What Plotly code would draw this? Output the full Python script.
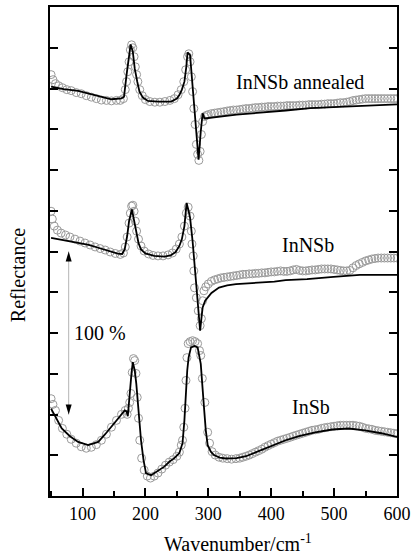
import plotly.graph_objects as go

# ---------------- data (wavenumber cm^-1, reflectance in %, offset spectra) ----------------
annealed_fit = [(50,251.1),(70,249.6),(93,248.5),(110,246.8),(127,245.0),(146,243.4),(162,244.0),(166,245.0),
    (170,258.3),(174,271.3),(176.5,277.0),(180,272.5),(183,262.3),(187,254.2),(190.6,248.1),(196,244.4),
    (204,242.4),(220,242.0),(241,242.0),(250,243.8),(254,246.0),(258,249.3),(262,254.2),(265,263.3),
    (267,272.1),(271,270.5),(275,251.1),(279,229.7),(282,214.5),(284.5,206.3),(288,223.6),(291,234.8),
    (294,231.6),(300,231.9),(317,232.8),(345,234.0),(370,234.8),(395,235.5),(423,236.5),(462,237.9),
    (515,238.9),(560,239.8),(600,240.3)]

annealed_meas = [(50,258.5),(53,255.4),(57,253.0),(62,251.7),(68,250.5),(75,249.3),(82,248.7),(90,247.5),
    (98,246.8),(106,245.6),(114,244.7),(122,243.8),(130,242.9),(138,242.7),(146,242.4),(154,242.7),
    (160,242.7),(165,243.8),(168,249.3),(170,254.2),(172,260.3),(174,266.4),(176,273.7),(178,276.8),
    (180,275.0),(182,269.5),(184,263.3),(186,258.5),(188,254.2),(191,249.3),(195,245.6),(200,243.2),
    (207,242.0),(215,241.6),(223,241.6),(231,242.0),(239,242.7),(246,243.8),(252,246.2),(257,249.3),
    (261,254.2),(264,261.5),(267,269.5),(269,271.3),(271,266.4),(273,257.2),(275,248.1),(277,237.7),
    (279,227.9),(281,215.7),(283,209.6),(285,205.9),(287,211.4),(289,221.8),(291,229.7),(294,232.8),
    (297,233.5),(300,234.0),(305,234.6),(310,234.9),(315,235.2),(320,235.5),(325,235.8),(330,236.2),
    (335,236.5),(340,236.8),(345,236.8),(350,237.1),(355,237.4),(360,237.7),(365,237.7),(370,238.0),
    (375,238.3),(380,238.3),(385,238.6),(390,238.6),(395,238.9),(400,238.9),(405,238.9),(410,239.2),
    (415,239.2),(420,239.2),(425,239.5),(430,239.5),(435,239.5),(440,239.5),(445,239.8),(450,239.8),
    (455,239.8),(460,240.1),(465,240.1),(470,240.1),(475,240.1),(480,240.4),(485,240.4),(490,240.7),
    (495,240.7),(500,240.7),(505,241.0),(510,241.3),(515,241.3),(520,241.6),(525,242.0),(530,242.6),
    (535,242.9),(540,243.2),(545,243.5),(550,243.8),(555,243.8),(560,243.8),(565,243.8),(570,243.8),
    (575,243.8),(580,243.8),(585,243.8),(590,243.8),(595,243.8),(600,243.8)]

innsb_fit = [(50,158.4),(70,157.0),(93,155.4),(110,154.0),(125,152.3),(140,150.6),(156,148.7),(163,148.5),
    (167,151.3),(171,159.5),(174,168.6),(178.5,175.8),(182,168.6),(185.5,160.5),(189,155.2),(193,151.3),
    (200,148.8),(214,147.3),(230,146.9),(240,147.6),(248,149.7),(254,153.4),(258,157.6),(262,165.6),
    (265.5,179.8),(268,176.0),(271,170.7),(275,156.4),(280,132.0),(284,112.4),(287,101.4),(289,108.8),
    (291,115.7),(295,119.8),(299,121.8),(305,124.6),(317,127.9),(330,129.2),(344,130.0),(365,130.4),
    (386,130.9),(405,131.5),(423,132.4),(457,133.0),(499,134.4),(541,135.6),(570,135.6),(600,135.6)]

innsb_meas = [(50,174.7),(52,169.9),(55,165.6),(60,163.1),(66,161.3),(73,160.1),(80,158.9),(88,157.6),
    (96,156.4),(104,155.2),(112,154.0),(120,152.8),(128,151.8),(136,150.9),(144,149.7),(152,148.8),
    (160,148.2),(165,149.1),(168,152.8),(171,158.9),(174,167.4),(176,173.5),(178,177.8),(180,178.4),
    (182,174.7),(184,168.6),(186,162.5),(189,157.6),(193,153.4),(198,150.3),(205,148.5),(212,147.6),
    (220,147.3),(228,147.3),(236,147.9),(243,149.1),(249,151.5),(254,154.6),(258,158.9),(262,165.6),
    (265,173.5),(268,177.2),(271,171.7),(273,162.5),(274,154.6),(276,147.3),(277,138.1),(278,127.7),
    (281,121.6),(284,113.6),(287,104.5),(289,108.8),(291,119.8),(293,125.9),(296,128.3),(300,130.1),
    (305,131.7),(310,132.6),(315,133.2),(320,133.8),(325,134.1),(330,134.4),(335,134.7),(340,135.0),
    (345,135.3),(350,135.6),(355,136.0),(360,136.0),(365,136.3),(370,136.3),(375,136.6),(380,136.6),
    (385,136.9),(390,136.9),(395,137.2),(400,137.5),(405,137.5),(410,137.8),(415,138.1),(420,137.8),
    (425,137.8),(430,138.1),(435,138.7),(440,139.0),(445,138.4),(450,138.1),(455,138.1),(460,138.4),
    (465,138.7),(470,138.7),(475,139.0),(480,139.3),(485,139.3),(490,139.3),(495,139.3),(500,139.0),
    (505,138.7),(510,138.4),(515,138.1),(520,138.1),(525,138.4),(530,140.0),(535,141.4),(540,142.4),
    (545,143.3),(550,144.2),(555,144.8),(560,145.4),(565,145.7),(570,146.0),(575,146.0),(580,146.0),
    (585,146.0),(590,146.0),(595,146.0),(600,146.0)]

insb_fit = [(50,53.6),(58,47.7),(67,41.4),(80,36.7),(93,33.2),(109,31.2),(125,33.2),(136,37.9),(146,42.3),
    (157,47.7),(167,52.5),(170,51.9),(172,48.9),(174,58.7),(176,66.8),(178,75.8),(180,82.1),(183,77.0),
    (185.5,68.9),(189,52.5),(193,34.2),(197,22.0),(201,13.9),(209,12.8),(220,15.3),(230,18.0),(238,21.0),
    (246,23.2),(254,26.3),(259,32.4),(262,46.4),(264.5,64.8),(266.5,77.0),(268.7,85.1),(272.5,91.2),
    (278,92.0),(283,91.2),(288,81.1),(291,67.8),(293.5,52.5),(296,40.3),(299,31.2),(304,27.2),(309,25.1),
    (318,23.5),(328,23.0),(345,23.2),(360,24.4),(380,27.5),(400,30.6),(423,34.2),(444,36.7),(470,39.1),
    (497,40.8),(523,41.4),(549,40.3),(575,38.5),(600,36.2)]

insb_meas = [(50,59.7),(53,56.2),(57,52.5),(62,46.4),(68,41.5),(75,37.9),(82,34.8),(90,32.4),(98,30.2),
    (106,29.3),(114,29.9),(122,31.5),(130,34.2),(138,37.9),(146,42.2),(154,46.4),(162,50.1),(168,52.5),
    (171,50.1),(173,53.8),(175,57.4),(177,62.9),(179,75.8),(181,84.3),(183,83.1),(185,75.2),(187,60.5),
    (189,47.7),(191,34.2),(194,23.2),(198,15.9),(203,12.2),(208,11.0),(214,12.2),(220,14.1),(226,16.5),
    (232,18.9),(238,20.8),(244,22.3),(250,24.4),(254,26.9),(257,31.2),(259,34.2),(261,42.2),(263,53.8),
    (264.5,70.9),(266,84.9),(268,93.5),(271,94.7),(275,95.3),(279,94.7),(283,93.5),(286,89.2),(288,86.2),
    (290.5,72.1),(294.5,57.4),(299,39.1),(302,32.4),(306,27.2),(311,25.1),(317,23.8),(323,23.2),(330,22.9),
    (337,22.6),(344,22.9),(350,23.2),(355,23.8),(360,24.4),(365,25.1),(370,26.0),(375,26.9),(380,27.8),
    (385,28.7),(390,29.9),(395,30.9),(400,31.8),(405,32.7),(410,33.6),(415,34.2),(420,34.8),(425,35.4),
    (430,36.0),(435,36.7),(440,37.3),(445,37.9),(450,38.5),(455,39.1),(460,39.7),(465,40.3),(470,40.6),
    (475,40.9),(480,41.5),(485,41.9),(490,42.2),(495,42.5),(500,42.8),(505,43.1),(510,43.4),(515,43.4),
    (520,43.4),(525,43.4),(530,43.4),(535,43.1),(540,42.8),(545,42.2),(550,41.5),(555,41.2),(560,40.9),
    (565,40.3),(570,40.0),(575,39.7),(580,39.4),(585,39.1),(590,38.8),(595,38.5),(600,38.2)]

x_ticks = [100, 200, 300, 400, 500, 600]
x_range = [48.3, 600]
y_range = [0, 300]
scale_bar_x = 78
scale_bar_low = 50
scale_bar_span = 100  # 100 %

FONT = "Liberation Serif"

fig = go.Figure()

for meas, fit in [(annealed_meas, annealed_fit), (innsb_meas, innsb_fit), (insb_meas, insb_fit)]:
    fig.add_trace(go.Scatter(
        x=[p[0] for p in meas], y=[p[1] for p in meas], mode="markers",
        marker=dict(symbol="circle-open", size=8, color="#9a9a9a", line=dict(width=1, color="#9a9a9a")),
        showlegend=False, hoverinfo="skip"))
    fig.add_trace(go.Scatter(
        x=[p[0] for p in fit], y=[p[1] for p in fit], mode="lines",
        line=dict(color="black", width=1.8),
        showlegend=False, hoverinfo="skip"))

# scale bar (100 %)
fig.add_shape(type="line", xref="x", yref="y", x0=scale_bar_x, x1=scale_bar_x,
              y0=scale_bar_low, y1=scale_bar_low + scale_bar_span,
              line=dict(color="#b5b5b5", width=1))
fig.add_shape(type="path", xref="x", yref="y", xsizemode="pixel", ysizemode="pixel",
              xanchor=scale_bar_x, yanchor=scale_bar_low + scale_bar_span,
              path="M0,0 L-3,-10 L3,-10 Z", fillcolor="black", line=dict(width=0))
fig.add_shape(type="path", xref="x", yref="y", xsizemode="pixel", ysizemode="pixel",
              xanchor=scale_bar_x, yanchor=scale_bar_low,
              path="M0,0 L-3,10 L3,10 Z", fillcolor="black", line=dict(width=0))

labels = [("InNSb annealed", 445.4, 254.2), ("InNSb", 458, 154.0), ("InSb", 463.6, 54.6),
          ("100 %", 128.2, 100.2)]
for txt, xx, yy in labels:
    fig.add_annotation(x=xx, y=yy, xref="x", yref="y", text=txt, showarrow=False,
                       xanchor="center", yanchor="middle",
                       font=dict(family=FONT, size=20, color="black"))

fig.add_annotation(x=0.5415, y=-0.0957, xref="paper", yref="paper",
                   text="Wavenumber/cm<sup>-1</sup>", showarrow=False,
                   xanchor="center", yanchor="middle",
                   font=dict(family=FONT, size=20, color="black"))
fig.add_annotation(x=-0.0917, y=0.452, xref="paper", yref="paper", text="Reflectance",
                   textangle=-90, showarrow=False, xanchor="center", yanchor="middle",
                   font=dict(family=FONT, size=20, color="black"))

fig.update_layout(
    width=416, height=557,
    margin=dict(l=50, r=17, t=5, b=61),
    paper_bgcolor="white", plot_bgcolor="white",
    font=dict(family=FONT, size=18, color="black"),
    xaxis=dict(range=x_range, tickvals=x_ticks, ticks="inside", ticklen=8, tickwidth=1.5,
               tickcolor="black", showline=True, linewidth=2, linecolor="black", mirror=True,
               showgrid=False, zeroline=False,
               minor=dict(ticks="inside", dtick=50, tick0=0, ticklen=5, tickwidth=1.5,
                          tickcolor="black", showgrid=False),
               tickfont=dict(family=FONT, size=18, color="black")),
    xaxis2=dict(range=x_range, overlaying="x", side="top", anchor="y", ticks="inside",
                tick0=0, dtick=50, ticklen=8, tickwidth=1.5, tickcolor="black",
                showticklabels=False, showgrid=False, zeroline=False, showline=False),
    yaxis=dict(range=y_range, dtick=25, tick0=0, ticks="inside", ticklen=8, tickwidth=1.5,
               tickcolor="black", showticklabels=False, showline=True, linewidth=2,
               linecolor="black", mirror="ticks", showgrid=False, zeroline=False),
)

fig.write_html("out.html", config={"displayModeBar": False},
               post_script="document.body.style.margin='0px';")
